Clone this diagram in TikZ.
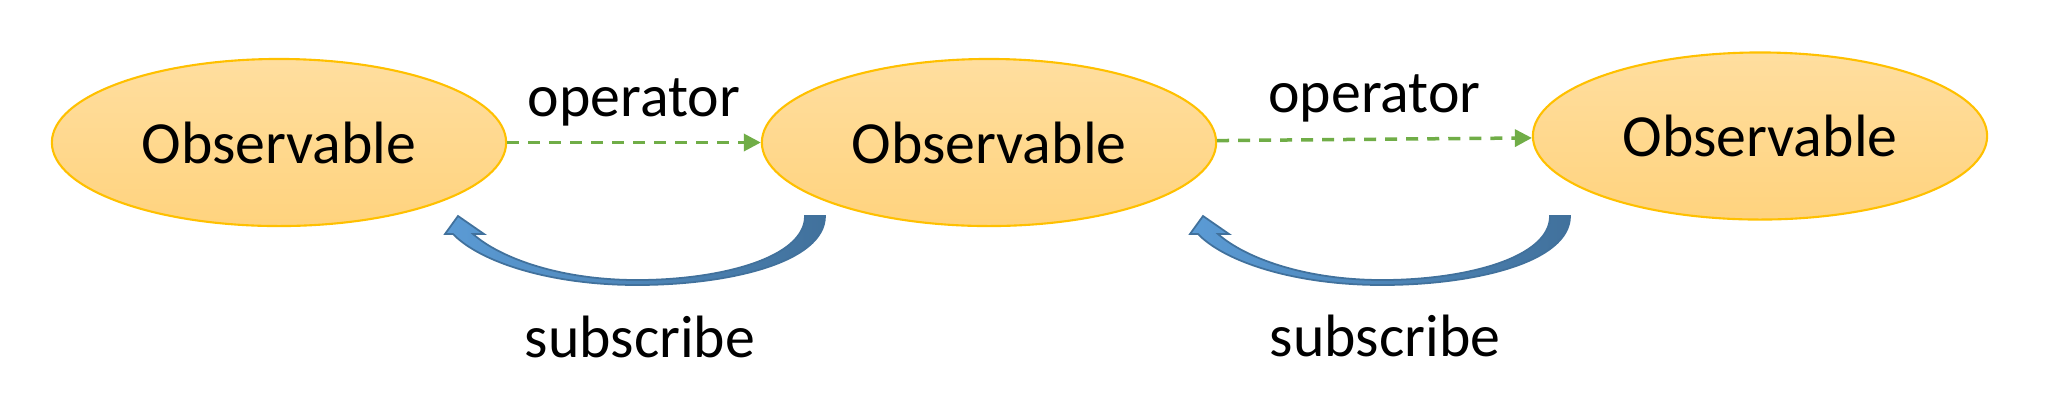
\documentclass[tikz,border=0pt]{standalone}
\usepackage{fontspec}
\setmainfont{Carlito}
\usetikzlibrary{shapes.geometric,arrows.meta}

\definecolor{obsline}{HTML}{FFC000}
\definecolor{obstop}{HTML}{FFDE9F}
\definecolor{obsbottom}{HTML}{FFD37E}
\definecolor{opgreen}{HTML}{70AD47}
\definecolor{sublight}{HTML}{5B9BD5}
\definecolor{subdark}{HTML}{41719C}

\begin{document}
\begin{tikzpicture}[x=0.01cm,y=-0.01cm,
        obs node/.style={ellipse,draw=obsline,line width=0.6pt,top color=obstop,bottom color=obsbottom,
            minimum width=4.54cm,minimum height=1.67cm,inner sep=0pt,font=\fontsize{17}{20}\selectfont},
        op arrow/.style={-{Triangle[length=0.17cm,width=0.17cm]},dash pattern=on 0.12cm off 0.09cm,
            line width=0.035cm,draw=opgreen},
        sub arrow/.style={draw=subdark,line width=0.5pt,left color=sublight,right color=subdark},
        label text/.style={inner sep=0pt,font=\fontsize{17}{20}\selectfont}]

    \useasboundingbox (0,0) rectangle (2058,402);

    \node[obs node] (obs1) at (279,142.5) {Observable};
    \node[obs node] (obs2) at (989,142.5) {Observable};
    \node[obs node] (obs3) at (1760,136) {Observable};

    \path[every node/.style={label text}]
    (obs1) edge [op arrow] node[above=0.15cm] {operator} (obs2)
    (obs2) edge [op arrow] node[above=0.15cm] {operator} (obs3);

    % curved block arrows back to the source
    \foreach \dx in {0,745}
        \path[sub arrow, shift={(\dx,0)}] (825,216) .. controls (825,262) and (730,285) .. (637,285)
            .. controls (550,285) and (480,262) .. (453,234) -- (445,234) -- (458,216) -- (484,234)
            -- (473,234) .. controls (500,258) and (560,280) .. (637,280)
            .. controls (720,280) and (805,258) .. (805,216) -- cycle;

    \node[label text, anchor=base] (sub1) at (640,357) {subscribe};
    \node[label text, anchor=base] (sub2) at (1385,356) {subscribe};

\end{tikzpicture}
\end{document}
